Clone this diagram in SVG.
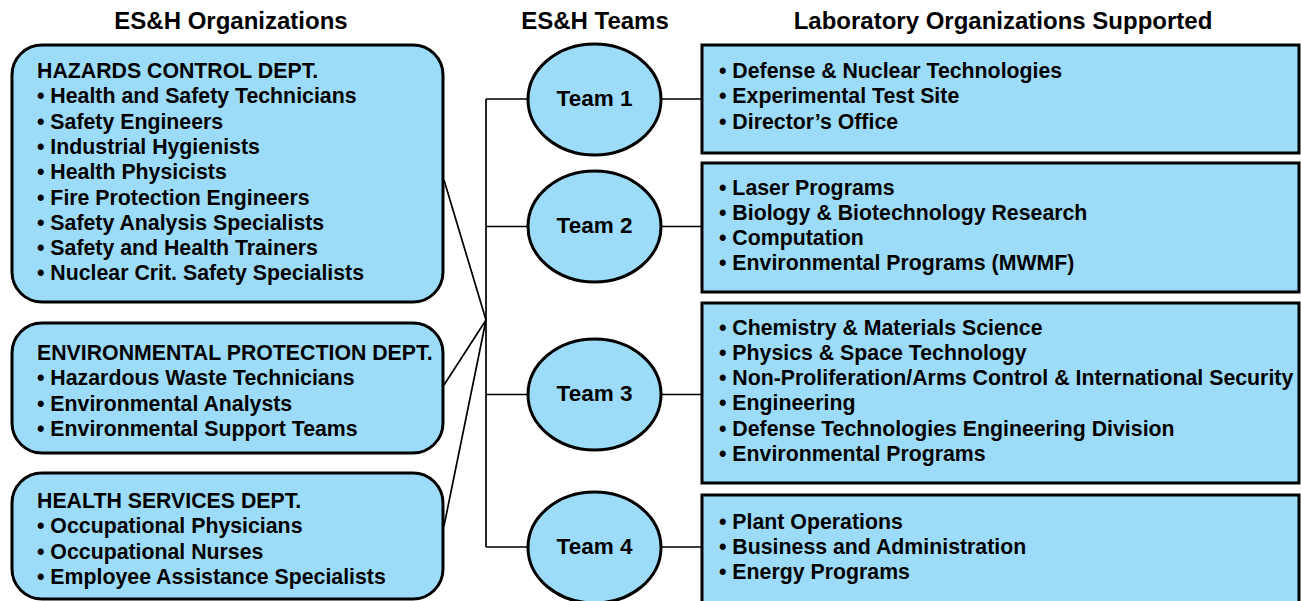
<svg xmlns="http://www.w3.org/2000/svg" width="1301" height="601" viewBox="0 0 1301 601">
<style>
.box{fill:#9DDCF8;stroke:#000;stroke-width:3}
.t{font-family:"Liberation Sans",Arial,sans-serif;font-weight:bold;font-size:21.3px;fill:#000}
.h{font-family:"Liberation Sans",Arial,sans-serif;font-weight:bold;font-size:24px;fill:#000;text-anchor:middle}
.team{font-family:"Liberation Sans",Arial,sans-serif;font-weight:bold;font-size:22.5px;fill:#000;text-anchor:middle}
.c{stroke:#000;stroke-width:1.7;fill:none}
</style>
<rect width="1301" height="601" fill="#fff"/>
<g id="titles">
<text class="h" x="231" y="29">ES&amp;H Organizations</text>
<text class="h" x="595" y="29">ES&amp;H Teams</text>
<text class="h" x="1003" y="29">Laboratory Organizations Supported</text>
</g>
<g id="connectors">
<path class="c" d="M444,180 L486,320 M444,385 L486,320 M444,526 L486,320"/>
<path class="c" d="M486,99 V547 M486,99 H528 M486,226.5 H528 M486,394.5 H528 M486,547 H528"/>
<path class="c" d="M661,99 H702 M661,226.5 H702 M661,394.5 H702 M661,547 H702"/>
</g>
<g id="hazards">
<rect class="box" x="12" y="45" width="431" height="257" rx="30"/>
<text class="t" x="37" y="78">HAZARDS CONTROL DEPT.</text>
<text class="t" x="37" y="103.3">• Health and Safety Technicians</text>
<text class="t" x="37" y="128.6">• Safety Engineers</text>
<text class="t" x="37" y="153.9">• Industrial Hygienists</text>
<text class="t" x="37" y="179.2">• Health Physicists</text>
<text class="t" x="37" y="204.5">• Fire Protection Engineers</text>
<text class="t" x="37" y="229.8">• Safety Analysis Specialists</text>
<text class="t" x="37" y="255.1">• Safety and Health Trainers</text>
<text class="t" x="37" y="280.4">• Nuclear Crit. Safety Specialists</text>
</g>
<g id="envprot">
<rect class="box" x="12" y="323" width="431" height="130" rx="30"/>
<text class="t" x="37" y="360">ENVIRONMENTAL PROTECTION DEPT.</text>
<text class="t" x="37" y="385.3">• Hazardous Waste Technicians</text>
<text class="t" x="37" y="410.6">• Environmental Analysts</text>
<text class="t" x="37" y="435.9">• Environmental Support Teams</text>
</g>
<g id="health">
<rect class="box" x="12" y="473" width="431" height="126" rx="30"/>
<text class="t" x="37" y="508">HEALTH SERVICES DEPT.</text>
<text class="t" x="37" y="533.3">• Occupational Physicians</text>
<text class="t" x="37" y="558.6">• Occupational Nurses</text>
<text class="t" x="37" y="583.9">• Employee Assistance Specialists</text>
</g>
<g id="team1">
<ellipse class="box" cx="594.5" cy="99.5" rx="66.5" ry="55.5"/>
<text class="team" x="594.5" y="105.5">Team 1</text>
</g>
<g id="team2">
<ellipse class="box" cx="594.5" cy="226.5" rx="66.5" ry="55.5"/>
<text class="team" x="594.5" y="232.5">Team 2</text>
</g>
<g id="team3">
<ellipse class="box" cx="594.5" cy="394.5" rx="66.5" ry="55.5"/>
<text class="team" x="594.5" y="400.5">Team 3</text>
</g>
<g id="team4">
<ellipse class="box" cx="594.5" cy="547.5" rx="66.5" ry="55.5"/>
<text class="team" x="594.5" y="553.5">Team 4</text>
</g>
<g id="orgs1">
<rect class="box" x="702" y="45" width="597" height="108"/>
<text class="t" x="719" y="78">• Defense &amp; Nuclear Technologies</text>
<text class="t" x="719" y="103.3">• Experimental Test Site</text>
<text class="t" x="719" y="128.6">• Director’s Office</text>
</g>
<g id="orgs2">
<rect class="box" x="702" y="163" width="597" height="129"/>
<text class="t" x="719" y="194.5">• Laser Programs</text>
<text class="t" x="719" y="219.8">• Biology &amp; Biotechnology Research</text>
<text class="t" x="719" y="245.1">• Computation</text>
<text class="t" x="719" y="270.4">• Environmental Programs (MWMF)</text>
</g>
<g id="orgs3">
<rect class="box" x="702" y="303" width="597" height="180"/>
<text class="t" x="719" y="334.5">• Chemistry &amp; Materials Science</text>
<text class="t" x="719" y="359.8">• Physics &amp; Space Technology</text>
<text class="t" x="719" y="385.1">• Non-Proliferation/Arms Control &amp; International Security</text>
<text class="t" x="719" y="410.4">• Engineering</text>
<text class="t" x="719" y="435.7">• Defense Technologies Engineering Division</text>
<text class="t" x="719" y="461">• Environmental Programs</text>
</g>
<g id="orgs4">
<rect class="box" x="702" y="495" width="597" height="112"/>
<text class="t" x="719" y="528.5">• Plant Operations</text>
<text class="t" x="719" y="553.8">• Business and Administration</text>
<text class="t" x="719" y="579">• Energy Programs</text>
</g>
</svg>
